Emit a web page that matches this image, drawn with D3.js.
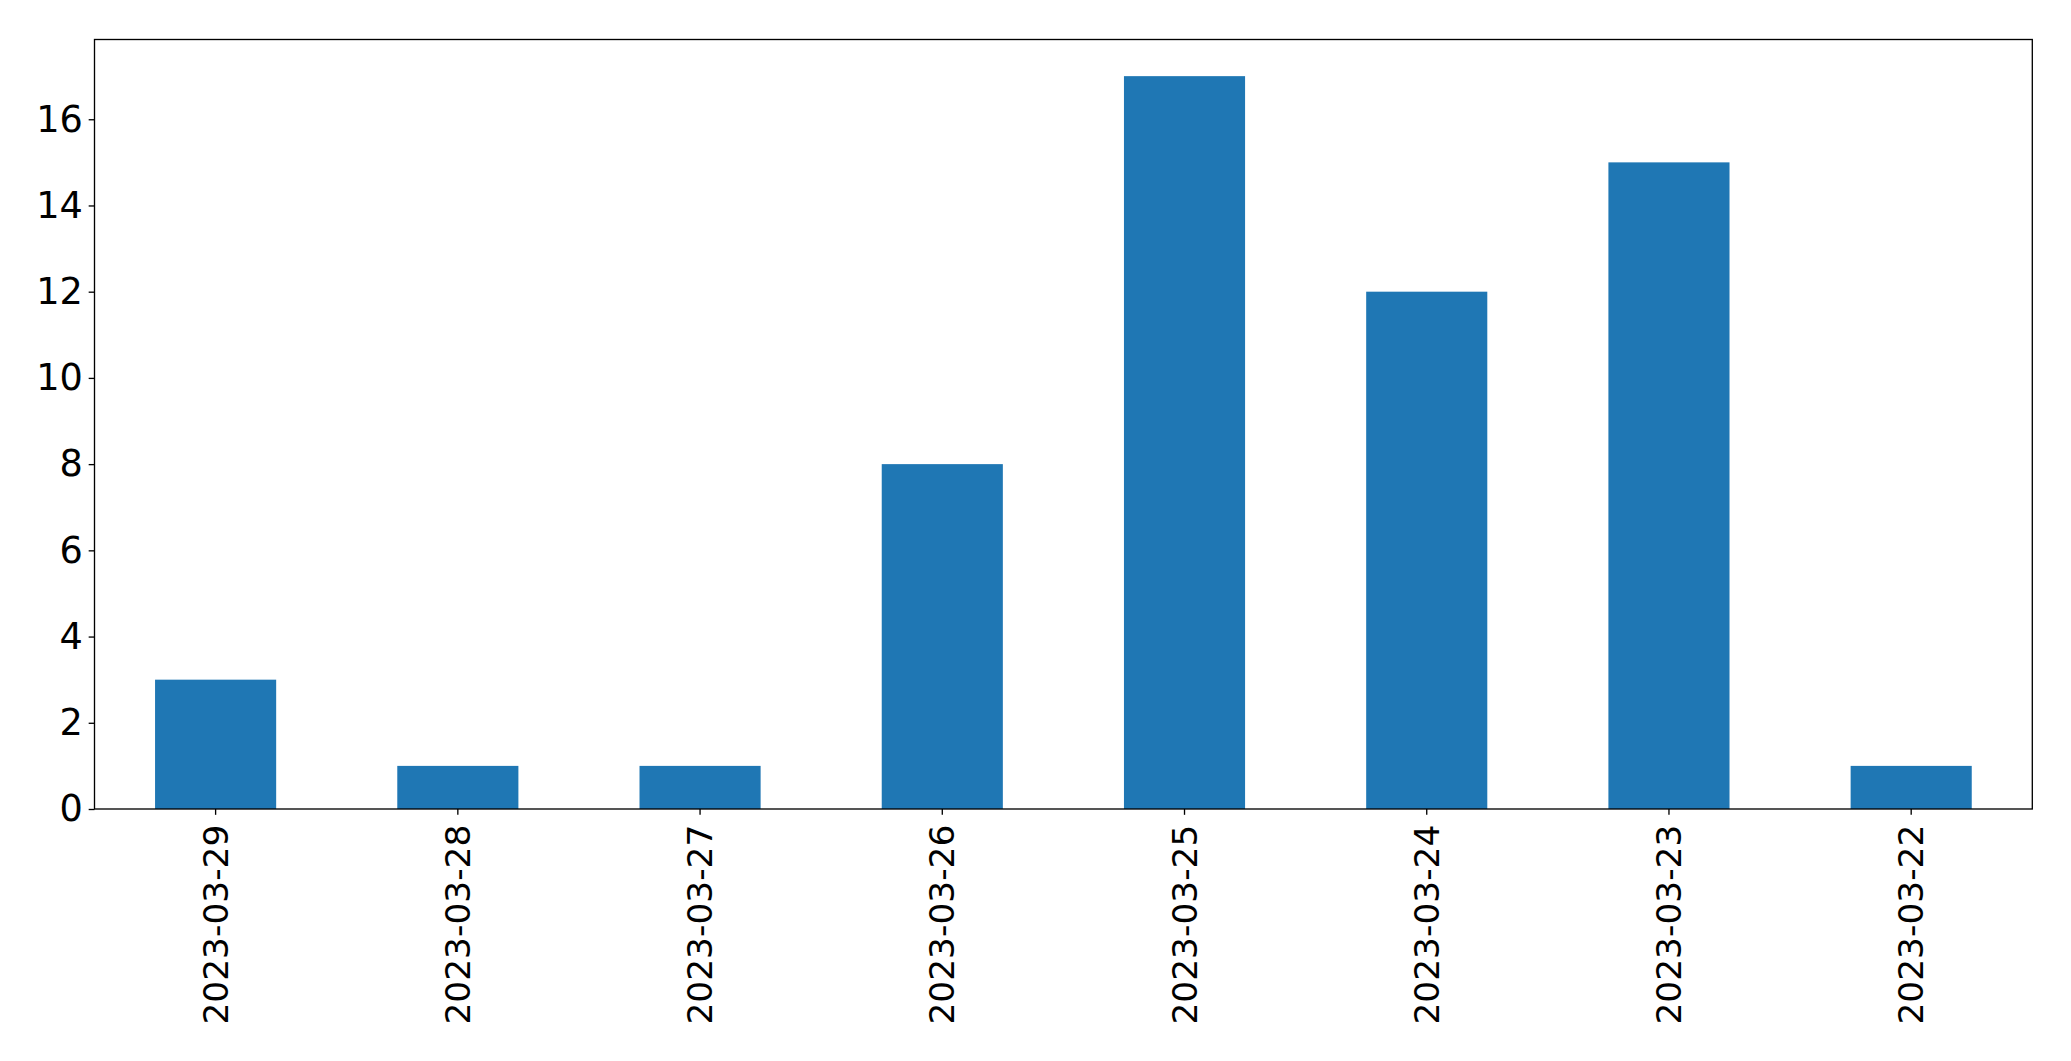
<!DOCTYPE html>
<html>
<head>
<meta charset="utf-8">
<script src="https://cdn.jsdelivr.net/npm/d3@7"></script>
<style>
  body { margin: 0; background: #fff; }
  svg { display: block; font-family: "DejaVu Sans", sans-serif; }
</style>
</head>
<body>
<div id="viz"></div>
<script>
var width = 2071,
    height = 1061;

// data
var dates = ["2023-03-29", "2023-03-28", "2023-03-27", "2023-03-26",
             "2023-03-25", "2023-03-24", "2023-03-23", "2023-03-22"];
var counts = [3, 1, 1, 8, 17, 12, 15, 1];
var yTicks = [0, 2, 4, 6, 8, 10, 12, 14, 16];

var margin = {left: 94.5, right: 2071 - 2032.3, top: 39.5, bottom: 1061 - 809};
var yFont = 36.67,
    xFont = 34.4,
    tickLen = 5.83,
    tickPad = 5.83;

var svg = d3.select("div#viz")
    .append("svg")
    .attr("width", width)
    .attr("height", height);

var x = d3.scaleBand()
    .domain(dates)
    .range([margin.left, width - margin.right])
    .paddingInner(0.5)
    .paddingOuter(0.25);

var yMax = d3.max(counts) * 1.05;
var y = d3.scaleLinear()
    .domain([0, yMax])
    .range([height - margin.bottom, margin.top]);

// bars
svg.append("g")
    .selectAll("rect")
    .data(counts)
    .enter().append("rect")
    .attr("x", function(d, i) { return x(dates[i]); })
    .attr("y", function(d) { return y(d); })
    .attr("width", x.bandwidth())
    .attr("height", function(d) { return y(0) - y(d); })
    .attr("fill", "#1f77b4");

// y axis
var yAxis = d3.axisLeft(y)
    .tickValues(yTicks)
    .tickSize(tickLen)
    .tickPadding(tickPad)
    .tickFormat(d3.format("d"));

svg.append("g")
    .attr("transform", "translate(" + margin.left + ",0)")
    .call(yAxis)
    .call(function(g) { g.select(".domain").remove(); })
    .call(function(g) {
        g.selectAll("line").attr("stroke", "#000").attr("stroke-width", 1.33);
        g.selectAll("text")
            .attr("fill", "#000")
            .style("font-size", yFont + "px")
            .style("font-family", "DejaVu Sans");
    });

// x axis, labels turned upright
var xAxis = d3.axisBottom(x)
    .tickSize(tickLen)
    .tickPadding(tickPad);

svg.append("g")
    .attr("transform", "translate(0," + (height - margin.bottom) + ")")
    .call(xAxis)
    .call(function(g) { g.select(".domain").remove(); })
    .call(function(g) {
        g.selectAll("line").attr("stroke", "#000").attr("stroke-width", 1.33);
        g.selectAll("text")
            .attr("fill", "#000")
            .style("font-size", xFont + "px")
            .style("font-family", "DejaVu Sans")
            .attr("text-anchor", "end")
            .attr("x", 0)
            .attr("y", 0)
            .attr("dy", "0.35em")
            .attr("transform", "translate(0," + (tickLen + tickPad + 4) + ") rotate(-90)");
    });

// frame
svg.append("rect")
    .attr("x", margin.left)
    .attr("y", margin.top)
    .attr("width", width - margin.left - margin.right)
    .attr("height", height - margin.top - margin.bottom)
    .attr("fill", "none")
    .attr("stroke", "#000")
    .attr("stroke-width", 1.33);
</script>
</body>
</html>
